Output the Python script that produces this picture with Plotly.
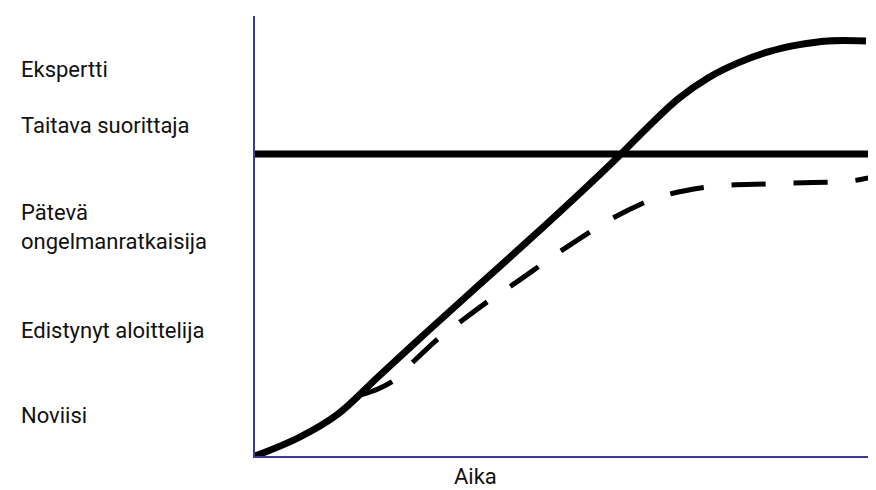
import plotly.graph_objects as go

# Data (time 0-100, level 0-100)
solid_x = [0, 6.84, 13.20, 19.55, 27.50, 35.45, 43.40, 51.35, 57.71, 62.48, 67.25, 72.02, 76.79, 81.56, 86.33, 91.10, 97.14]
solid_y = [0, 4.10, 9.57, 18.00, 28.47, 38.72, 48.97, 59.45, 68.11, 74.94, 81.32, 86.10, 89.52, 92.03, 93.62, 94.53, 94.53]

dashed_x = [16.85, 19.55, 22.42, 25.12, 29.41, 32.59, 37.36, 40.70, 45.47, 48.65, 53.74, 56.92, 62.48,
            65.98, 72.02, 75.68, 81.88, 85.53, 91.89, 95.39, 98.89]
dashed_y = [13.90, 15.26, 17.54, 21.41, 27.11, 30.52, 35.54, 38.72, 43.51, 46.70, 51.48, 54.21, 58.09,
            59.68, 61.28, 61.73, 61.96, 62.19, 62.41, 62.76, 63.78]

level_x = [0, 100]
level_y = [68.8, 68.8]

stage_labels = ["Ekspertti", "Taitava suorittaja", "Pätevä<br>ongelmanratkaisija", "Edistynyt aloittelija", "Noviisi"]
stage_label_y = [88.1, 75.2, 52.2, 28.6, 9.2]
x_title = "Aika"

fig = go.Figure()
fig.add_trace(go.Scatter(x=level_x, y=level_y, mode="lines",
                         line=dict(color="black", width=7), hoverinfo="skip"))
fig.add_trace(go.Scatter(x=dashed_x, y=dashed_y, mode="lines",
                         line=dict(color="black", width=5, dash="34px,28px", shape="spline", smoothing=0.8),
                         hoverinfo="skip"))
fig.add_trace(go.Scatter(x=solid_x, y=solid_y, mode="lines",
                         line=dict(color="black", width=7, shape="spline", smoothing=1),
                         hoverinfo="skip"))

font = dict(family="Roboto", size=22, color="#111111")
for txt, yy in zip(stage_labels, stage_label_y):
    fig.add_annotation(text=txt, xref="paper", yref="y", x=-(247 - 11) / 629, y=yy,
                       xanchor="left", yanchor="middle", align="left", showarrow=False, font=font)
fig.add_annotation(text=x_title, xref="x", yref="paper", x=35.0, y=-(468 - 448) / 439,
                   xanchor="center", yanchor="middle", showarrow=False, font=font)

axis_common = dict(showgrid=False, zeroline=False, showticklabels=False, ticks="",
                   showline=True, linecolor="#3c3c98", linewidth=2)
fig.update_xaxes(range=[0, 100], **axis_common)
fig.update_yaxes(range=[0, 100.2], **axis_common)
fig.update_layout(width=876, height=490, margin=dict(l=247, r=0, t=8, b=42),
                  plot_bgcolor="white", paper_bgcolor="white", showlegend=False)

fig.write_html("out.html")
